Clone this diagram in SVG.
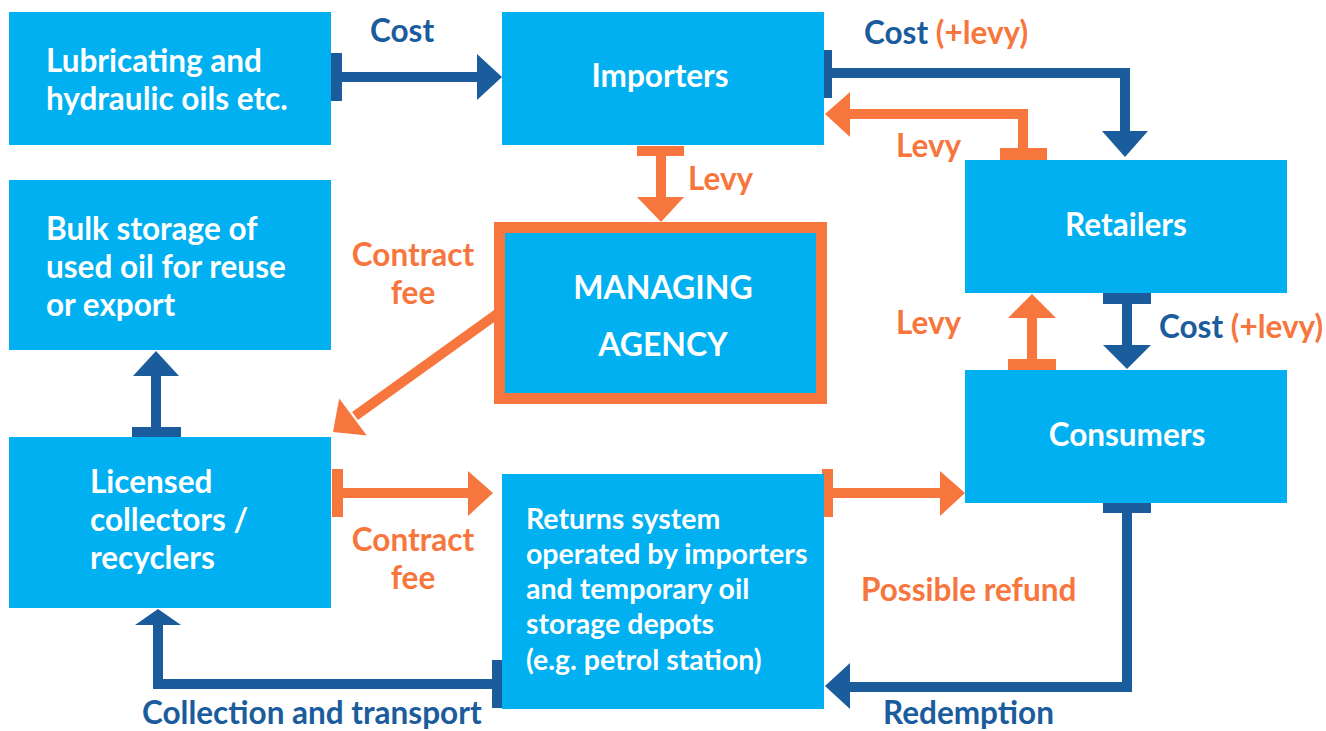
<svg xmlns="http://www.w3.org/2000/svg" width="1326" height="731" viewBox="0 0 1326 731">
  <style>
    .box { fill: #00B0F0; }
    .agency { fill: #00B0F0; stroke: #F7763D; stroke-width: 11; }
    .bt { font-family: Lato, "Open Sans", sans-serif; font-weight: 700; font-size: 31.5px; fill: #FFFFFF; }
    .bt-sm { font-size: 28.5px; }
    .ag { font-size: 32px; }
    .mid { text-anchor: middle; }
    .lb { font-family: Lato, "Open Sans", sans-serif; font-weight: 700; font-size: 31.5px; }
    .lb-blue { fill: #1A5C9C; }
    .lb-orange { fill: #F7763D; }
    .ln-blue { fill: none; stroke: #1A5C9C; stroke-width: 10; }
    .ln-orange { fill: none; stroke: #F7763D; stroke-width: 10; }
    .hd-blue { fill: #1A5C9C; }
    .hd-orange { fill: #F7763D; }
  </style>

  <rect width="1326" height="731" fill="#FFFFFF"/>

  <!-- connectors: shafts, end bars and arrowheads -->
  <g id="connectors">
    <!-- Lubricating oils -> Importers (Cost) -->
    <rect class="hd-blue" x="331" y="53" width="11" height="48"/>
    <path class="ln-blue" d="M338 77 H478"/>
    <polygon class="hd-blue" points="477,54 502,77 477,100"/>

    <!-- Importers -> Retailers (Cost +levy) -->
    <rect class="hd-blue" x="822" y="50" width="10" height="48"/>
    <path class="ln-blue" d="M828 73 H1125 V132"/>
    <polygon class="hd-blue" points="1102,131 1148,131 1125,157"/>

    <!-- Retailers -> Importers (Levy) -->
    <rect class="hd-orange" x="1000" y="148" width="47" height="12"/>
    <path class="ln-orange" d="M1023 152 V114 H848"/>
    <polygon class="hd-orange" points="850,92 850,137 825,114"/>

    <!-- Importers -> Managing agency (Levy) -->
    <rect class="hd-orange" x="637" y="146" width="47" height="10"/>
    <path class="ln-orange" d="M661 150 V199"/>
    <polygon class="hd-orange" points="637,197 684,197 661,222"/>

    <!-- Managing agency -> Licensed collectors (Contract fee) -->
    <path class="ln-orange" d="M497 314 L355 416"/>
    <polygon class="hd-orange" points="366.8,435.5 339.2,398.6 333,432"/>

    <!-- Consumers -> Retailers (Levy) -->
    <rect class="hd-orange" x="1008" y="359" width="48" height="11"/>
    <path class="ln-orange" d="M1032 364 V316"/>
    <polygon class="hd-orange" points="1008,318 1056,318 1032,294"/>

    <!-- Retailers -> Consumers (Cost +levy) -->
    <rect class="hd-blue" x="1103" y="293" width="48" height="11"/>
    <path class="ln-blue" d="M1127 298 V347"/>
    <polygon class="hd-blue" points="1103,345 1151,345 1127,369"/>

    <!-- Licensed collectors -> Bulk storage -->
    <rect class="hd-blue" x="132" y="427" width="49" height="10"/>
    <path class="ln-blue" d="M156 432 V374"/>
    <polygon class="hd-blue" points="133,376 179,376 156,351"/>

    <!-- Licensed collectors -> Returns system (Contract fee) -->
    <rect class="hd-orange" x="332" y="469" width="11" height="48"/>
    <path class="ln-orange" d="M338 493 H470"/>
    <polygon class="hd-orange" points="468,471 493,493 468,516"/>

    <!-- Returns system -> Consumers (Possible refund) -->
    <rect class="hd-orange" x="822" y="469" width="11" height="48"/>
    <path class="ln-orange" d="M828 493 H942"/>
    <polygon class="hd-orange" points="940,471 965,493 940,516"/>

    <!-- Returns system -> Licensed collectors (Collection and transport) -->
    <rect class="hd-blue" x="492" y="660" width="10" height="48"/>
    <path class="ln-blue" d="M497 684 H158 V623"/>
    <polygon class="hd-blue" points="135,625 181,625 158,609"/>

    <!-- Consumers -> Returns system (Redemption) -->
    <rect class="hd-blue" x="1103" y="503" width="48" height="10"/>
    <path class="ln-blue" d="M1127 508 V687 H848"/>
    <polygon class="hd-blue" points="850,663 850,709 825,686"/>
  </g>

  <!-- connector labels -->
  <g id="labels">
    <text class="lb lb-blue" x="370" y="42">Cost</text>
    <text class="lb lb-blue" x="864" y="44">Cost <tspan class="lb-orange">(+levy)</tspan></text>
    <text class="lb lb-orange" x="896" y="157">Levy</text>
    <text class="lb lb-orange" x="688" y="190">Levy</text>
    <text class="lb lb-orange mid" x="413" y="266">Contract</text>
    <text class="lb lb-orange mid" x="413" y="304">fee</text>
    <text class="lb lb-orange" x="896" y="334">Levy</text>
    <text class="lb lb-blue" x="1159" y="338">Cost <tspan class="lb-orange">(+levy)</tspan></text>
    <text class="lb lb-orange mid" x="413" y="551">Contract</text>
    <text class="lb lb-orange mid" x="413" y="589">fee</text>
    <text class="lb lb-orange" x="861" y="601">Possible refund</text>
    <text class="lb lb-blue" x="883" y="724">Redemption</text>
    <text class="lb lb-blue" x="142" y="724">Collection and transport</text>
  </g>

  <g id="lubricating-oils">
    <rect class="box" x="9" y="12" width="322" height="133"/>
    <text class="bt" x="46" y="72">Lubricating and</text>
    <text class="bt" x="46" y="110">hydraulic oils etc.</text>
  </g>

  <g id="importers">
    <rect class="box" x="502" y="12" width="322" height="133"/>
    <text class="bt mid" x="660" y="87">Importers</text>
  </g>

  <g id="bulk-storage">
    <rect class="box" x="9" y="180" width="322" height="170"/>
    <text class="bt" x="46" y="240">Bulk storage of</text>
    <text class="bt" x="46" y="278">used oil for reuse</text>
    <text class="bt" x="46" y="316">or export</text>
  </g>

  <g id="managing-agency">
    <rect class="agency" x="499.5" y="227.5" width="322" height="171"/>
    <text class="bt ag mid" x="663" y="299">MANAGING</text>
    <text class="bt ag mid" x="663" y="356">AGENCY</text>
  </g>

  <g id="retailers">
    <rect class="box" x="965" y="160" width="322" height="133"/>
    <text class="bt mid" x="1126" y="236">Retailers</text>
  </g>

  <g id="consumers">
    <rect class="box" x="965" y="370" width="322" height="133"/>
    <text class="bt mid" x="1127" y="446">Consumers</text>
  </g>

  <g id="licensed-collectors">
    <rect class="box" x="9" y="437" width="322" height="171"/>
    <text class="bt" x="90" y="493">Licensed</text>
    <text class="bt" x="90" y="531">collectors /</text>
    <text class="bt" x="90" y="569">recyclers</text>
  </g>

  <g id="returns-system">
    <rect class="box" x="502" y="474" width="322" height="235"/>
    <text class="bt bt-sm" x="526" y="529">Returns system</text>
    <text class="bt bt-sm" x="526" y="564">operated by importers</text>
    <text class="bt bt-sm" x="526" y="599">and temporary oil</text>
    <text class="bt bt-sm" x="526" y="634">storage depots</text>
    <text class="bt bt-sm" x="526" y="670">(e.g. petrol station)</text>
  </g>
</svg>
